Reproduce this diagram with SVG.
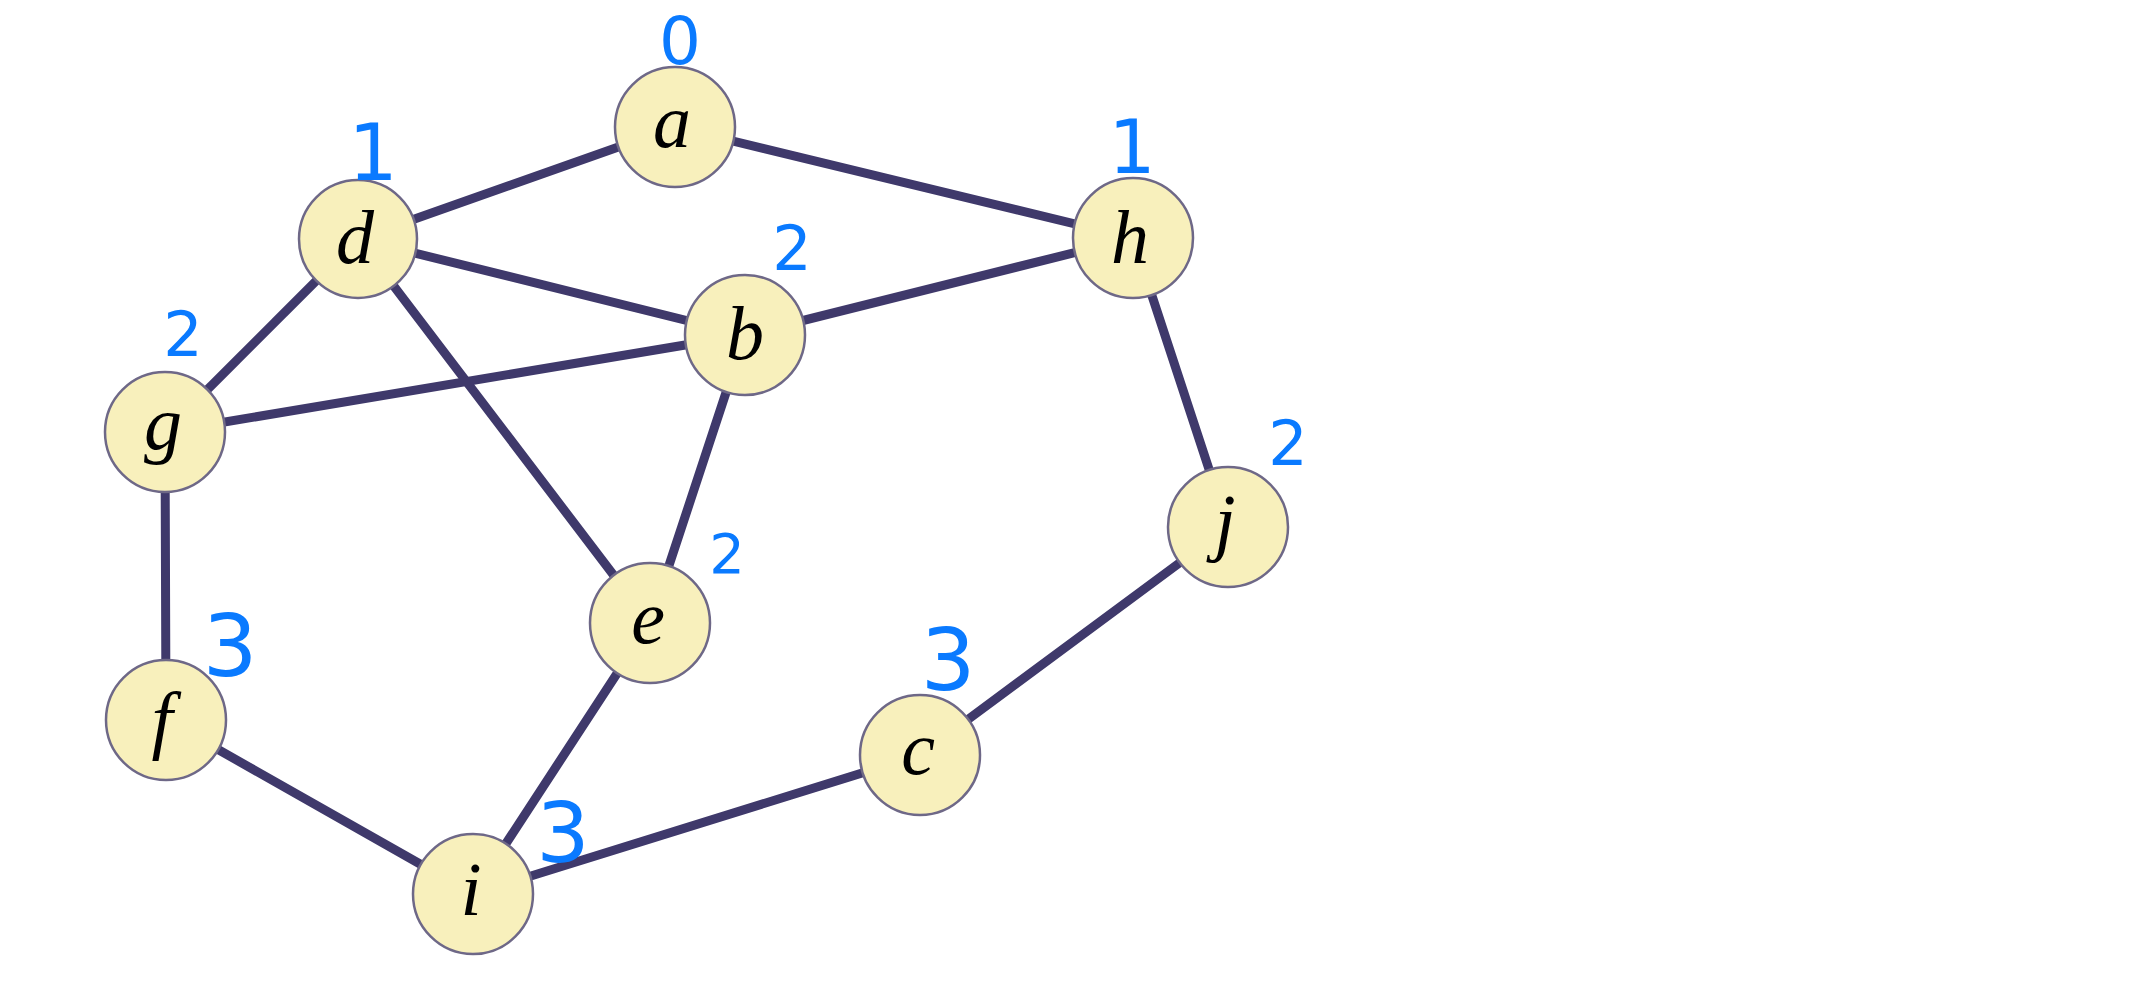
<svg xmlns="http://www.w3.org/2000/svg" width="2146" height="1000" viewBox="0 0 2146 1000">
<style>
.edge{stroke:#3f396b;stroke-width:9;stroke-linecap:round;fill:none}
.node circle{fill:#f8f0bc;stroke:#6e6887;stroke-width:2.5}
.node text{font-family:"Liberation Serif","DejaVu Serif",serif;font-style:italic;font-size:76px;fill:#000;text-anchor:middle}
.ann{font-family:"DejaVu Sans","Liberation Sans",sans-serif;fill:#0a7aff;text-anchor:middle}
</style>
<rect width="2146" height="1000" fill="#fff"/>
<g id="edges">
<line class="edge" x1="675" y1="127" x2="358" y2="239"/>
<line class="edge" x1="675" y1="127" x2="1133" y2="238"/>
<line class="edge" x1="358" y1="239" x2="745" y2="335"/>
<line class="edge" x1="358" y1="239" x2="165" y2="432"/>
<line class="edge" x1="358" y1="239" x2="650" y2="623"/>
<line class="edge" x1="1133" y1="238" x2="745" y2="335"/>
<line class="edge" x1="1133" y1="238" x2="1228" y2="527"/>
<line class="edge" x1="745" y1="335" x2="165" y2="432"/>
<line class="edge" x1="745" y1="335" x2="650" y2="623"/>
<line class="edge" x1="165" y1="432" x2="166" y2="720"/>
<line class="edge" x1="166" y1="720" x2="473" y2="894"/>
<line class="edge" x1="650" y1="623" x2="473" y2="894"/>
<line class="edge" x1="473" y1="894" x2="920" y2="755"/>
<line class="edge" x1="920" y1="755" x2="1228" y2="527"/>
</g>
<g id="node-a" class="node"><circle cx="675" cy="127" r="60"/><text x="672" y="147">a</text></g>
<g id="node-d" class="node"><circle cx="358" cy="239" r="59"/><text x="355" y="263">d</text></g>
<g id="node-h" class="node"><circle cx="1133" cy="238" r="60"/><text x="1130" y="263">h</text></g>
<g id="node-b" class="node"><circle cx="745" cy="335" r="60"/><text x="745" y="359">b</text></g>
<g id="node-g" class="node"><circle cx="165" cy="432" r="60"/><text x="163" y="449">g</text></g>
<g id="node-j" class="node"><circle cx="1228" cy="527" r="60"/><text x="1225" y="547">j</text></g>
<g id="node-e" class="node"><circle cx="650" cy="623" r="60"/><text x="648" y="643">e</text></g>
<g id="node-f" class="node"><circle cx="166" cy="720" r="60"/><text x="162" y="745">f</text></g>
<g id="node-c" class="node"><circle cx="920" cy="755" r="60"/><text x="918" y="774">c</text></g>
<g id="node-i" class="node"><circle cx="473" cy="894" r="60"/><text x="471" y="915">i</text></g>
<g id="annotations">
<text class="ann" x="680" y="64" font-size="66">0</text>
<text class="ann" x="373" y="180" font-size="78">1</text>
<text class="ann" x="1132" y="173" font-size="74">1</text>
<text class="ann" x="792" y="270" font-size="62">2</text>
<text class="ann" x="183" y="356" font-size="62">2</text>
<text class="ann" x="1288" y="465" font-size="62">2</text>
<text class="ann" x="727" y="573" font-size="56">2</text>
<text class="ann" x="230" y="676" font-size="86">3</text>
<text class="ann" x="948" y="690" font-size="86">3</text>
<text class="ann" x="563" y="862" font-size="84">3</text>
</g>
</svg>
